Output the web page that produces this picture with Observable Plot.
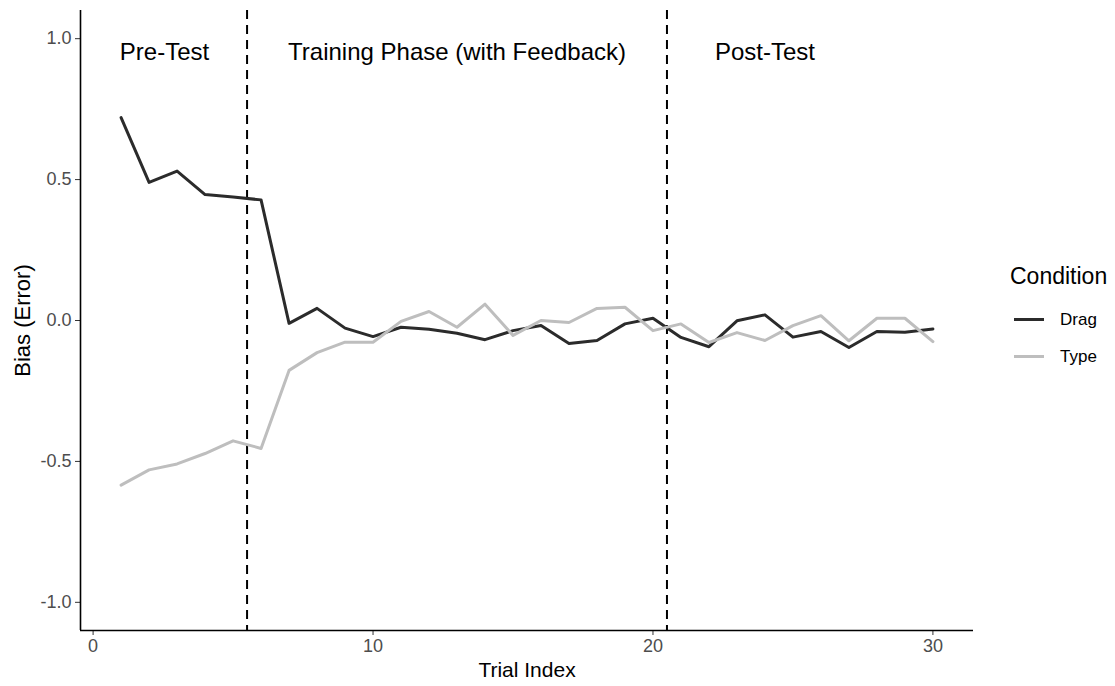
<!DOCTYPE html>
<html>
<head>
<meta charset="utf-8">
<script src="https://cdn.jsdelivr.net/npm/d3@7"></script>
<script src="https://cdn.jsdelivr.net/npm/@observablehq/plot@0.6"></script>
<style>
  body { margin: 0; background: #fff; font-family: "Liberation Sans", Arial, sans-serif; }
  #wrap { position: relative; width: 1115px; height: 686px; }
  #wrap svg { position: absolute; left: 0; top: 0; }
  g[aria-label="y-axis label"] text { font-size: 22px; fill: #000; }
  g[aria-label="x-axis label"] text { font-size: 21px; fill: #000; }
  .legend { position: absolute; left: 1010px; top: 0; color: #000; }
  .legend .title { position: absolute; left: 0; top: 265px; font-size: 23px; line-height: 1; white-space: nowrap; }
  .legend .key { position: absolute; left: 4px; width: 30px; height: 3px; }
  .legend .lab { position: absolute; left: 50px; font-size: 17px; line-height: 1; white-space: nowrap; }
</style>
</head>
<body>
<div id="wrap"></div>
<script>
// ---- data ----
const trials = [1,2,3,4,5,6,7,8,9,10,11,12,13,14,15,16,17,18,19,20,21,22,23,24,25,26,27,28,29,30];
const dragBias = [0.72,0.49,0.53,0.447,0.438,0.428,-0.01,0.043,-0.027,-0.057,-0.024,-0.031,-0.045,-0.068,-0.036,-0.018,-0.082,-0.071,-0.012,0.008,-0.06,-0.093,-0.001,0.02,-0.059,-0.039,-0.096,-0.039,-0.042,-0.03];
const typeBias = [-0.584,-0.53,-0.509,-0.472,-0.427,-0.454,-0.177,-0.114,-0.077,-0.077,-0.003,0.032,-0.024,0.058,-0.053,0.0,-0.007,0.043,0.047,-0.036,-0.012,-0.078,-0.043,-0.071,-0.018,0.017,-0.072,0.008,0.008,-0.075];
const conditions = ["Drag", "Type"];
const conditionColors = ["#2b2b2b", "#bebebe"];
const phaseBoundaries = [5.5, 20.5];
const phaseLabels = ["Pre-Test", "Training Phase (with Feedback)", "Post-Test"];
const phaseLabelX = [2.55, 13, 24];
const phaseLabelY = 0.95;
const xTicks = [0, 10, 20, 30];
const yTicks = [-1, -0.5, 0, 0.5, 1];

// ---- build table ----
const rows = [];
trials.forEach((t, i) => rows.push({trial: t, bias: dragBias[i], condition: "Drag"}));
trials.forEach((t, i) => rows.push({trial: t, bias: typeBias[i], condition: "Type"}));
const phases = phaseLabels.map((l, i) => ({label: l, x: phaseLabelX[i], y: phaseLabelY}));

const xDomain = [-0.45, 31.45];
const yDomain = [-1.1, 1.1];

const chart = Plot.plot({
  width: 1115,
  height: 686,
  marginLeft: 80,
  marginRight: 142,
  marginTop: 10,
  marginBottom: 56,
  style: {fontFamily: '"Liberation Sans", Arial, sans-serif', background: "transparent"},
  x: {domain: xDomain},
  y: {domain: yDomain},
  color: {domain: conditions, range: conditionColors},
  marks: [
    Plot.axisY({ticks: yTicks, tickFormat: d => d.toFixed(1), tickSize: 5, tickPadding: 4, fontSize: 18, color: "#4d4d4d", stroke: "#333",
      label: "Bias (Error)", labelAnchor: "center", labelOffset: 66, labelArrow: "none"}),
    Plot.axisX({ticks: xTicks, tickFormat: d => String(d), tickSize: 5, tickPadding: 4, fontSize: 18, color: "#4d4d4d", stroke: "#333",
      label: "Trial Index", labelAnchor: "center", labelOffset: 46, labelArrow: "none"}),
    Plot.ruleX([xDomain[0]], {stroke: "#000", strokeWidth: 1.6}),
    Plot.ruleY([yDomain[0]], {stroke: "#000", strokeWidth: 1.6}),
    Plot.ruleX(phaseBoundaries, {stroke: "#000", strokeWidth: 2, strokeDasharray: "9,6"}),
    Plot.line(rows, {x: "trial", y: "bias", stroke: "condition", z: "condition", strokeWidth: 3}),
    Plot.text(phases, {x: "x", y: "y", text: "label", fontSize: 24, fill: "#000"})
  ]
});

const wrap = document.getElementById("wrap");
wrap.appendChild(chart);

// legend
const leg = document.createElement("div");
leg.className = "legend";
const title = document.createElement("div");
title.className = "title";
title.textContent = "Condition";
leg.appendChild(title);
const keyY = [319, 356];
conditions.forEach((c, i) => {
  const k = document.createElement("div");
  k.className = "key";
  k.style.top = (keyY[i] - 1.5) + "px";
  k.style.background = conditionColors[i];
  leg.appendChild(k);
  const l = document.createElement("div");
  l.className = "lab";
  l.style.top = (keyY[i] - 8.5) + "px";
  l.textContent = c;
  leg.appendChild(l);
});
wrap.appendChild(leg);
</script>
</body>
</html>
